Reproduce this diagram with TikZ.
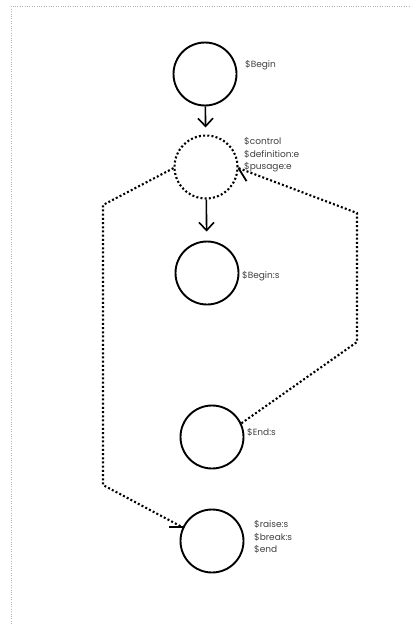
\documentclass[tikz,border=0pt]{standalone}
\usepackage{fontspec}
\setmainfont{Poppins}
\usepackage{tikz}
\usetikzlibrary{positioning,arrows.meta}
\usepackage{xcolor}

\begin{document}
\begin{tikzpicture} [x=1pt,y=-1pt,
		state/.style={circle, draw=black, line width=1.9pt, minimum size=63pt, inner sep=0pt},
		cstate/.style={state, line width=2.1pt, dash pattern=on 2pt off 2.2pt},
		tag/.style={anchor=west, align=left, text=black!75, font=\fontsize{9}{12.4}\selectfont, inner sep=0pt},
		step arrow/.style={line width=1.6pt, -{Straight Barb[length=8pt, width=15pt, line width=1.6pt]}},
		jump/.style={line width=2.1pt, dash pattern=on 2pt off 2.2pt}]
				\useasboundingbox (0,0) rectangle (411,626);
				\draw [black!30, dotted] (11,626)--(11,6)--(411,6);
				\node [state]  (begin)   at (205, 74) {};
				\node [cstate] (control) at (206,167) {};
				\node [state]  (begins)  at (207,273) {};
				\node [state]  (ends)    at (212,437) {};
				\node [state]  (raise)   at (212,541) {};
				\node [tag] at (245, 65) {\$Begin};
				\node [tag] at (244,155) {\$control\\\$definition:e\\\$pusage:e};
				\node [tag] at (242,276) {\$Begin:s};
				\node [tag] at (247,432) {\$End:s};
				\node [tag] at (254,537) {\$raise:s\\\$break:s\\\$end};
				\draw [step arrow, shorten >=7pt] (begin)--(control);
				\draw [step arrow, shorten >=9pt] (control)--(begins);
				\coordinate (c1) at (103,205);
				\coordinate (c2) at (103,485);
				\coordinate (c3) at (357,342);
				\coordinate (c4) at (357,213);
				\draw [jump] (control.182)--(c1)--(c2)--(raise.155);
				\draw [jump] (ends.25)--(c3)--(c4)--(control.-2);
				\draw [line width=1.8pt] (raise.155) -- ++(-14,0);
				\draw [line width=1.8pt] (control.-2) -- ++(8,13);
			\end{tikzpicture}
\end{document}
